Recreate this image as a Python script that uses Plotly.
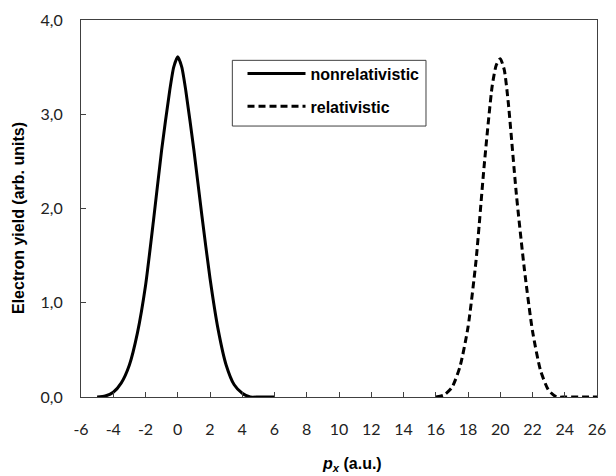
import plotly.graph_objects as go

# Nonrelativistic electron momentum distribution
px_nonrel = [-5.0, -4.5, -4.0, -3.5, -3.0, -2.5, -2.0, -1.5, -1.0, -0.5, -0.25, 0.0,
             0.25, 0.5, 1.0, 1.5, 2.0, 2.5, 3.0, 3.5, 4.0, 4.5, 5.0, 5.5, 6.0]
yield_nonrel = [0.00, 0.01, 0.05, 0.15, 0.34, 0.68, 1.18, 1.88, 2.62, 3.25, 3.50, 3.61,
                3.50, 3.25, 2.62, 1.92, 1.26, 0.72, 0.34, 0.13, 0.04, 0.00, 0.00, 0.00, 0.00]

# Relativistic electron momentum distribution
px_rel = [16.0, 16.5, 17.0, 17.5, 18.0, 18.5, 19.0, 19.5, 19.75, 20.0, 20.25, 20.5,
          21.0, 21.5, 22.0, 22.5, 23.0, 23.5, 24.0, 24.5, 25.0, 25.5, 26.0]
yield_rel = [0.00, 0.02, 0.10, 0.32, 0.74, 1.45, 2.45, 3.30, 3.52, 3.59, 3.47, 3.12,
             2.15, 1.35, 0.70, 0.28, 0.07, 0.00, 0.00, 0.00, 0.00, 0.00, 0.00]

series_names = ["nonrelativistic", "relativistic"]
x_ticks = list(range(-6, 27, 2))
y_ticks = [0, 1, 2, 3, 4]

fig = go.Figure()
fig.add_trace(go.Scatter(x=px_nonrel, y=yield_nonrel, mode="lines", name=series_names[0],
                         line=dict(color="black", width=3, shape="spline", smoothing=0.6),
                         legendgroup="a"))
fig.add_trace(go.Scatter(x=px_rel, y=yield_rel, mode="lines", name=series_names[1],
                         line=dict(color="black", width=3, dash="7px,4px", shape="spline", smoothing=0.6),
                         legendgroup="b"))

axis_common = dict(showgrid=False, zeroline=False, showline=True, linecolor="#404040",
                   linewidth=1, mirror=True, ticks="inside", ticklen=5, tickcolor="#404040",
                   tickfont=dict(family="Lato", size=16, color="#222222"))

fig.update_xaxes(range=[-6, 26], tickmode="array", tickvals=x_ticks,
                 ticktext=[str(v) for v in x_ticks], ticklabelstandoff=18, **axis_common)
fig.update_yaxes(range=[0, 4], tickmode="array", tickvals=y_ticks, tickformat=".1f",
                 ticklabelstandoff=14, **axis_common)

fig.add_annotation(text="<b>Electron yield (arb. units)</b>", xref="paper", yref="paper",
                   x=-0.12, y=0.475, xanchor="center", yanchor="middle", textangle=-90,
                   showarrow=False, font=dict(family="Liberation Sans", size=16, color="black"))
fig.add_annotation(text="<b><i>p</i><sub><i>x</i></sub> (a.u.)</b>", xref="paper", yref="paper",
                   x=0.526, y=-0.178, xanchor="center", yanchor="middle", showarrow=False,
                   font=dict(family="Liberation Sans", size=16, color="black"))

# legend frame
fig.add_shape(type="rect", xref="paper", yref="paper", x0=0.2933, x1=0.6686, y0=0.71875, y1=0.893,
              line=dict(color="#404040", width=1), fillcolor="white", layer="below")

fig.update_layout(
    width=616, height=476,
    margin=dict(l=81, r=10, t=13, b=79),
    paper_bgcolor="white", plot_bgcolor="white",
    separators=", ",
    showlegend=True,
    legend=dict(x=0.313, y=0.903, xanchor="left", yanchor="top",
                borderwidth=0, bgcolor="rgba(0,0,0,0)",
                font=dict(family="Liberation Sans", size=16, color="black", weight="bold"),
                itemwidth=58, tracegroupgap=9, traceorder="grouped"),
)

fig.write_html("out.html")
